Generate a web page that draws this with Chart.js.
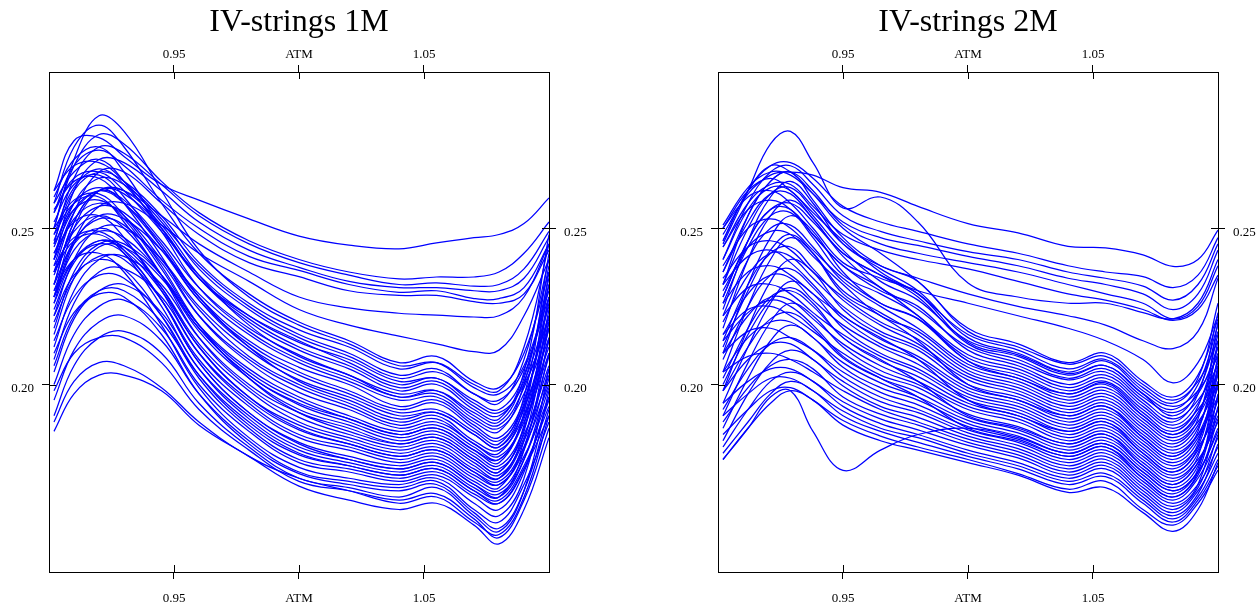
<!DOCTYPE html>
<html>
<head>
<meta charset="utf-8">
<script src="https://cdn.jsdelivr.net/npm/chart.js@4.4.1/dist/chart.umd.min.js"></script>
<style>
html,body{margin:0;padding:0;background:#fff;}
#wrap{position:relative;width:1259px;height:608px;overflow:hidden;}
canvas{position:absolute;top:0;}
</style>
</head>
<body>
<div id="wrap">
<canvas id="c1" width="630" height="608" style="left:0px"></canvas>
<canvas id="c2" width="629" height="608" style="left:630px"></canvas>
</div>
<script>
// ---------- axes ----------
const xRange = [0.9, 1.1];
const yRange = [0.14, 0.30];
const xTickValues = [0.95, 1.0, 1.05];
const xTickLabels = ['0.95', 'ATM', '1.05'];
const yTickValues = [0.20, 0.25];
const yTickLabels = ['0.20', '0.25'];
const titles = ['IV-strings 1M', 'IV-strings 2M'];

// ---------- moneyness grids ----------
const moneyness1M = [0.902, 0.91, 0.92, 0.93, 0.945, 0.96, 0.98, 1.0, 1.02, 1.04, 1.055, 1.07, 1.08, 1.09, 1.1];
const moneyness2M = [0.902, 0.912, 0.921, 0.929, 0.938, 0.95, 0.965, 0.98, 1.0, 1.02, 1.04, 1.055, 1.07, 1.082, 1.092, 1.1];

// ---------- 1M implied-vol strings ----------
const iv1M_upper = [
  [0.262, 0.278, 0.279, 0.273, 0.264, 0.259, 0.253, 0.2475, 0.2446, 0.2434, 0.2453, 0.247, 0.248, 0.2515, 0.2597],
  [0.250, 0.270, 0.280, 0.277, 0.265, 0.255, 0.246, 0.240, 0.236, 0.2338, 0.2344, 0.2344, 0.236, 0.242, 0.252],
  [0.245, 0.266, 0.276, 0.274, 0.264, 0.254, 0.245, 0.239, 0.235, 0.232, 0.2325, 0.2315, 0.232, 0.237, 0.249],
  [0.240, 0.262, 0.272, 0.271, 0.262, 0.252, 0.243, 0.2375, 0.233, 0.231, 0.231, 0.230, 0.230, 0.234, 0.247],
  [0.255, 0.270, 0.275, 0.270, 0.259, 0.250, 0.241, 0.2365, 0.232, 0.2295, 0.230, 0.2275, 0.2275, 0.231, 0.245],
  [0.236, 0.255, 0.268, 0.268, 0.258, 0.248, 0.239, 0.2345, 0.230, 0.2285, 0.2285, 0.2265, 0.226, 0.229, 0.243],
  [0.232, 0.252, 0.262, 0.262, 0.254, 0.245, 0.236, 0.228, 0.2245, 0.2228, 0.2222, 0.2216, 0.222, 0.228, 0.245],
  [0.228, 0.246, 0.257, 0.258, 0.251, 0.242, 0.233, 0.224, 0.219, 0.2155, 0.213, 0.2105, 0.211, 0.222, 0.240]
];
const iv1M_bandHigh = [
  [0.258, 0.276, 0.283, 0.276, 0.258, 0.242, 0.229, 0.220, 0.214, 0.207, 0.209, 0.201, 0.199, 0.210, 0.236],
  [0.250, 0.272, 0.286, 0.281, 0.262, 0.243, 0.228, 0.219, 0.213, 0.206, 0.207, 0.199, 0.197, 0.206, 0.230],
  [0.246, 0.262, 0.268, 0.265, 0.254, 0.239, 0.226, 0.2175, 0.212, 0.205, 0.207, 0.200, 0.198, 0.212, 0.245],
  [0.262, 0.270, 0.271, 0.265, 0.252, 0.238, 0.225, 0.216, 0.210, 0.203, 0.205, 0.197, 0.195, 0.205, 0.228],
  [0.240, 0.258, 0.266, 0.264, 0.253, 0.237, 0.224, 0.215, 0.209, 0.202, 0.204, 0.197, 0.194, 0.208, 0.240],
  [0.255, 0.266, 0.268, 0.262, 0.249, 0.235, 0.222, 0.2135, 0.208, 0.201, 0.202, 0.195, 0.192, 0.203, 0.232],
  [0.232, 0.252, 0.262, 0.261, 0.250, 0.234, 0.221, 0.212, 0.206, 0.199, 0.201, 0.193, 0.190, 0.201, 0.225],
  [0.248, 0.263, 0.269, 0.264, 0.250, 0.234, 0.220, 0.211, 0.205, 0.198, 0.200, 0.192, 0.189, 0.204, 0.248],
  [0.238, 0.255, 0.262, 0.259, 0.246, 0.231, 0.218, 0.2095, 0.203, 0.197, 0.198, 0.190, 0.187, 0.199, 0.222],
  [0.258, 0.268, 0.272, 0.265, 0.249, 0.231, 0.217, 0.208, 0.202, 0.196, 0.197, 0.189, 0.186, 0.197, 0.218],
  [0.226, 0.245, 0.254, 0.253, 0.243, 0.229, 0.216, 0.207, 0.201, 0.195, 0.196, 0.188, 0.185, 0.200, 0.238],
  [0.244, 0.258, 0.263, 0.258, 0.244, 0.228, 0.214, 0.2055, 0.200, 0.193, 0.195, 0.187, 0.183, 0.195, 0.226],
  [0.235, 0.250, 0.257, 0.255, 0.243, 0.227, 0.213, 0.204, 0.198, 0.192, 0.194, 0.186, 0.182, 0.193, 0.215],
  [0.252, 0.264, 0.267, 0.260, 0.244, 0.227, 0.212, 0.203, 0.197, 0.191, 0.192, 0.185, 0.181, 0.196, 0.242],
  [0.222, 0.240, 0.250, 0.250, 0.240, 0.225, 0.211, 0.2015, 0.196, 0.190, 0.191, 0.184, 0.180, 0.192, 0.220],
  [0.240, 0.253, 0.258, 0.254, 0.240, 0.224, 0.209, 0.200, 0.194, 0.188, 0.190, 0.182, 0.179, 0.190, 0.212],
  [0.230, 0.246, 0.253, 0.251, 0.239, 0.222, 0.208, 0.199, 0.193, 0.187, 0.189, 0.181, 0.178, 0.193, 0.232],
  [0.256, 0.265, 0.266, 0.258, 0.241, 0.222, 0.207, 0.1975, 0.192, 0.186, 0.188, 0.181, 0.177, 0.189, 0.218],
  [0.218, 0.236, 0.245, 0.245, 0.235, 0.219, 0.205, 0.196, 0.190, 0.185, 0.187, 0.180, 0.176, 0.188, 0.210],
  [0.245, 0.256, 0.259, 0.253, 0.237, 0.219, 0.204, 0.195, 0.189, 0.184, 0.186, 0.179, 0.175, 0.191, 0.236],
  [0.228, 0.243, 0.249, 0.247, 0.235, 0.218, 0.203, 0.1935, 0.188, 0.183, 0.185, 0.178, 0.174, 0.186, 0.214]
];
const iv1M_bandLow = [
  [0.236, 0.249, 0.254, 0.250, 0.235, 0.217, 0.202, 0.192, 0.187, 0.182, 0.184, 0.177, 0.173, 0.184, 0.206],
  [0.212, 0.230, 0.240, 0.241, 0.232, 0.215, 0.200, 0.191, 0.186, 0.181, 0.183, 0.176, 0.172, 0.187, 0.228],
  [0.248, 0.258, 0.260, 0.252, 0.235, 0.215, 0.199, 0.1895, 0.184, 0.180, 0.182, 0.175, 0.171, 0.183, 0.209],
  [0.224, 0.239, 0.246, 0.244, 0.231, 0.213, 0.198, 0.188, 0.183, 0.179, 0.181, 0.174, 0.170, 0.182, 0.203],
  [0.232, 0.245, 0.250, 0.246, 0.231, 0.212, 0.196, 0.187, 0.182, 0.178, 0.180, 0.173, 0.170, 0.185, 0.224],
  [0.208, 0.226, 0.236, 0.237, 0.228, 0.210, 0.195, 0.1855, 0.181, 0.177, 0.179, 0.172, 0.169, 0.180, 0.200],
  [0.242, 0.252, 0.254, 0.247, 0.230, 0.210, 0.194, 0.184, 0.180, 0.176, 0.178, 0.171, 0.168, 0.179, 0.205],
  [0.220, 0.234, 0.241, 0.240, 0.227, 0.208, 0.193, 0.183, 0.179, 0.175, 0.177, 0.170, 0.167, 0.182, 0.220],
  [0.228, 0.240, 0.245, 0.242, 0.227, 0.207, 0.191, 0.1815, 0.177, 0.174, 0.176, 0.169, 0.166, 0.177, 0.196],
  [0.204, 0.221, 0.230, 0.232, 0.223, 0.205, 0.190, 0.180, 0.176, 0.173, 0.175, 0.168, 0.165, 0.176, 0.199],
  [0.236, 0.246, 0.248, 0.242, 0.225, 0.205, 0.189, 0.179, 0.175, 0.172, 0.174, 0.167, 0.164, 0.179, 0.215],
  [0.214, 0.228, 0.235, 0.234, 0.222, 0.203, 0.187, 0.1775, 0.174, 0.171, 0.173, 0.166, 0.163, 0.174, 0.193],
  [0.222, 0.235, 0.240, 0.237, 0.222, 0.202, 0.186, 0.176, 0.173, 0.170, 0.172, 0.165, 0.162, 0.173, 0.190],
  [0.200, 0.216, 0.225, 0.227, 0.218, 0.200, 0.185, 0.175, 0.172, 0.169, 0.171, 0.164, 0.160, 0.172, 0.196],
  [0.230, 0.240, 0.242, 0.236, 0.219, 0.199, 0.183, 0.1735, 0.170, 0.168, 0.170, 0.162, 0.158, 0.170, 0.205],
  [0.195, 0.211, 0.220, 0.222, 0.214, 0.197, 0.182, 0.172, 0.169, 0.167, 0.169, 0.160, 0.156, 0.168, 0.188],
  [0.210, 0.223, 0.229, 0.228, 0.216, 0.197, 0.181, 0.1715, 0.168, 0.166, 0.168, 0.159, 0.154, 0.166, 0.192],
  [0.190, 0.206, 0.215, 0.217, 0.210, 0.194, 0.180, 0.170, 0.167, 0.164, 0.167, 0.158, 0.153, 0.166, 0.198],
  [0.198, 0.210, 0.215, 0.215, 0.207, 0.192, 0.179, 0.169, 0.166, 0.163, 0.165, 0.157, 0.151, 0.163, 0.186],
  [0.185, 0.197, 0.203, 0.203, 0.198, 0.187, 0.177, 0.1675, 0.163, 0.160, 0.162, 0.155, 0.149, 0.160, 0.183],
  [0.188, 0.201, 0.207, 0.206, 0.199, 0.188, 0.177, 0.170, 0.166, 0.162, 0.164, 0.156, 0.152, 0.164, 0.190]
];
const iv1M_extra = [
  [0.260, 0.272, 0.276, 0.268, 0.250, 0.234, 0.222, 0.214, 0.207, 0.200, 0.202, 0.194, 0.191, 0.200, 0.221],
  [0.228, 0.250, 0.262, 0.262, 0.251, 0.235, 0.219, 0.209, 0.203, 0.196, 0.198, 0.191, 0.188, 0.202, 0.234],
  [0.242, 0.256, 0.262, 0.258, 0.245, 0.228, 0.212, 0.201, 0.195, 0.189, 0.191, 0.184, 0.180, 0.194, 0.228],
  [0.216, 0.234, 0.244, 0.244, 0.234, 0.218, 0.203, 0.194, 0.189, 0.184, 0.186, 0.179, 0.176, 0.190, 0.222],
  [0.250, 0.259, 0.261, 0.254, 0.238, 0.219, 0.202, 0.191, 0.185, 0.181, 0.183, 0.176, 0.172, 0.186, 0.218],
  [0.226, 0.240, 0.246, 0.243, 0.230, 0.212, 0.196, 0.186, 0.181, 0.177, 0.179, 0.172, 0.168, 0.180, 0.210],
  [0.238, 0.247, 0.249, 0.243, 0.227, 0.207, 0.191, 0.181, 0.176, 0.173, 0.175, 0.168, 0.164, 0.176, 0.202],
  [0.206, 0.222, 0.230, 0.230, 0.220, 0.203, 0.188, 0.178, 0.174, 0.171, 0.173, 0.166, 0.162, 0.173, 0.195]
];

// ---------- 2M implied-vol strings ----------
const iv2M_upper = [
  [0.248, 0.261, 0.267, 0.268, 0.267, 0.263, 0.2615, 0.257, 0.2515, 0.2485, 0.2442, 0.2437, 0.2415, 0.2378, 0.240, 0.2494],
  [0.246, 0.262, 0.270, 0.271, 0.266, 0.257, 0.252, 0.249, 0.245, 0.242, 0.238, 0.236, 0.2345, 0.231, 0.235, 0.247],
  [0.240, 0.258, 0.268, 0.270, 0.264, 0.254, 0.249, 0.246, 0.2425, 0.240, 0.236, 0.234, 0.2315, 0.227, 0.232, 0.245],
  [0.251, 0.263, 0.268, 0.267, 0.261, 0.252, 0.247, 0.2445, 0.241, 0.238, 0.234, 0.232, 0.229, 0.224, 0.229, 0.243],
  [0.236, 0.254, 0.265, 0.268, 0.262, 0.251, 0.245, 0.242, 0.239, 0.236, 0.232, 0.229, 0.226, 0.221, 0.225, 0.238],
  [0.244, 0.258, 0.264, 0.264, 0.257, 0.248, 0.243, 0.240, 0.237, 0.233, 0.229, 0.227, 0.224, 0.2205, 0.224, 0.235],
  [0.232, 0.250, 0.261, 0.263, 0.256, 0.245, 0.238, 0.234, 0.229, 0.225, 0.222, 0.219, 0.214, 0.2115, 0.217, 0.234],
  [0.228, 0.246, 0.256, 0.258, 0.252, 0.242, 0.235, 0.230, 0.226, 0.222, 0.218, 0.214, 0.208, 0.2005, 0.207, 0.222],
  [0.245, 0.262, 0.277, 0.281, 0.271, 0.2565, 0.260, 0.252, 0.2325, 0.228, 0.226, 0.226, 0.223, 0.221, 0.226, 0.240]
];
const iv2M_bandHigh = [
  [0.246, 0.262, 0.270, 0.268, 0.261, 0.250, 0.242, 0.233, 0.218, 0.213, 0.207, 0.210, 0.201, 0.196, 0.203, 0.221],
  [0.232, 0.254, 0.265, 0.268, 0.259, 0.247, 0.238, 0.233, 0.217, 0.212, 0.2065, 0.209, 0.200, 0.195, 0.201, 0.214],
  [0.250, 0.262, 0.266, 0.262, 0.255, 0.246, 0.236, 0.229, 0.216, 0.211, 0.205, 0.208, 0.199, 0.194, 0.202, 0.226],
  [0.224, 0.246, 0.260, 0.265, 0.258, 0.245, 0.237, 0.230, 0.215, 0.210, 0.204, 0.2075, 0.198, 0.193, 0.198, 0.209],
  [0.240, 0.256, 0.263, 0.262, 0.254, 0.243, 0.233, 0.227, 0.214, 0.2095, 0.2035, 0.206, 0.197, 0.192, 0.200, 0.219],
  [0.236, 0.252, 0.261, 0.261, 0.253, 0.242, 0.235, 0.228, 0.213, 0.208, 0.202, 0.205, 0.196, 0.191, 0.197, 0.212],
  [0.218, 0.240, 0.254, 0.259, 0.253, 0.241, 0.231, 0.224, 0.212, 0.207, 0.2015, 0.204, 0.195, 0.189, 0.195, 0.206],
  [0.244, 0.256, 0.259, 0.256, 0.248, 0.238, 0.230, 0.225, 0.211, 0.206, 0.200, 0.203, 0.194, 0.188, 0.197, 0.223],
  [0.228, 0.246, 0.256, 0.256, 0.248, 0.238, 0.231, 0.222, 0.2095, 0.205, 0.199, 0.202, 0.193, 0.187, 0.194, 0.210],
  [0.210, 0.232, 0.247, 0.254, 0.249, 0.236, 0.226, 0.221, 0.2085, 0.204, 0.198, 0.201, 0.192, 0.186, 0.192, 0.203],
  [0.238, 0.250, 0.253, 0.250, 0.243, 0.234, 0.226, 0.221, 0.2075, 0.203, 0.197, 0.2005, 0.191, 0.185, 0.193, 0.216],
  [0.222, 0.240, 0.250, 0.251, 0.244, 0.233, 0.225, 0.218, 0.2065, 0.202, 0.196, 0.199, 0.190, 0.184, 0.191, 0.207],
  [0.230, 0.244, 0.249, 0.248, 0.241, 0.232, 0.222, 0.217, 0.2055, 0.201, 0.195, 0.198, 0.189, 0.183, 0.190, 0.212],
  [0.204, 0.225, 0.240, 0.247, 0.242, 0.230, 0.223, 0.216, 0.2045, 0.200, 0.194, 0.197, 0.188, 0.182, 0.188, 0.200],
  [0.234, 0.244, 0.246, 0.243, 0.236, 0.228, 0.220, 0.2145, 0.2035, 0.199, 0.193, 0.196, 0.187, 0.181, 0.189, 0.220],
  [0.214, 0.232, 0.242, 0.244, 0.237, 0.227, 0.219, 0.213, 0.2025, 0.198, 0.192, 0.195, 0.186, 0.180, 0.187, 0.204],
  [0.220, 0.235, 0.242, 0.241, 0.234, 0.225, 0.217, 0.212, 0.2015, 0.197, 0.191, 0.194, 0.185, 0.179, 0.186, 0.208],
  [0.198, 0.218, 0.233, 0.240, 0.236, 0.224, 0.216, 0.211, 0.200, 0.196, 0.190, 0.193, 0.184, 0.178, 0.184, 0.196],
  [0.226, 0.236, 0.238, 0.235, 0.229, 0.222, 0.2145, 0.209, 0.199, 0.195, 0.189, 0.192, 0.183, 0.177, 0.185, 0.214],
  [0.208, 0.225, 0.235, 0.237, 0.231, 0.221, 0.213, 0.208, 0.198, 0.194, 0.188, 0.191, 0.182, 0.176, 0.183, 0.199],
  [0.216, 0.229, 0.235, 0.234, 0.227, 0.219, 0.212, 0.2065, 0.197, 0.193, 0.187, 0.190, 0.181, 0.175, 0.182, 0.203]
];
const iv2M_bandLow = [
  [0.194, 0.212, 0.226, 0.233, 0.229, 0.218, 0.210, 0.205, 0.196, 0.192, 0.186, 0.189, 0.180, 0.174, 0.180, 0.192],
  [0.222, 0.231, 0.232, 0.229, 0.223, 0.216, 0.209, 0.204, 0.195, 0.191, 0.185, 0.188, 0.179, 0.173, 0.181, 0.209],
  [0.202, 0.218, 0.228, 0.230, 0.225, 0.215, 0.2075, 0.2025, 0.194, 0.190, 0.184, 0.187, 0.178, 0.172, 0.179, 0.195],
  [0.210, 0.222, 0.228, 0.227, 0.221, 0.213, 0.206, 0.201, 0.193, 0.189, 0.183, 0.186, 0.177, 0.171, 0.178, 0.200],
  [0.190, 0.207, 0.220, 0.226, 0.222, 0.212, 0.2045, 0.200, 0.192, 0.188, 0.182, 0.185, 0.176, 0.170, 0.176, 0.188],
  [0.216, 0.224, 0.225, 0.222, 0.217, 0.210, 0.203, 0.199, 0.1905, 0.1865, 0.181, 0.184, 0.175, 0.169, 0.177, 0.205],
  [0.198, 0.212, 0.221, 0.223, 0.218, 0.2085, 0.202, 0.1975, 0.1895, 0.1855, 0.180, 0.183, 0.174, 0.168, 0.175, 0.192],
  [0.204, 0.215, 0.220, 0.220, 0.215, 0.207, 0.2005, 0.196, 0.1885, 0.1845, 0.179, 0.182, 0.173, 0.167, 0.174, 0.196],
  [0.186, 0.202, 0.214, 0.219, 0.215, 0.2055, 0.199, 0.195, 0.1875, 0.1835, 0.178, 0.181, 0.172, 0.166, 0.172, 0.185],
  [0.210, 0.217, 0.218, 0.215, 0.211, 0.204, 0.1975, 0.1935, 0.1865, 0.1825, 0.177, 0.180, 0.171, 0.165, 0.173, 0.201],
  [0.192, 0.205, 0.213, 0.215, 0.211, 0.2025, 0.196, 0.192, 0.1855, 0.1815, 0.176, 0.179, 0.170, 0.164, 0.171, 0.189],
  [0.198, 0.208, 0.213, 0.213, 0.208, 0.201, 0.1945, 0.191, 0.1845, 0.1805, 0.175, 0.178, 0.169, 0.163, 0.170, 0.183],
  [0.182, 0.197, 0.207, 0.211, 0.208, 0.1995, 0.193, 0.1895, 0.1835, 0.1795, 0.174, 0.177, 0.168, 0.162, 0.168, 0.180],
  [0.204, 0.209, 0.210, 0.208, 0.204, 0.198, 0.192, 0.188, 0.1825, 0.1785, 0.173, 0.176, 0.167, 0.161, 0.168, 0.193],
  [0.188, 0.199, 0.206, 0.208, 0.205, 0.196, 0.1905, 0.187, 0.1815, 0.1775, 0.172, 0.175, 0.166, 0.160, 0.167, 0.184],
  [0.194, 0.201, 0.205, 0.205, 0.201, 0.1945, 0.189, 0.1855, 0.1805, 0.1765, 0.171, 0.174, 0.165, 0.159, 0.166, 0.178],
  [0.180, 0.192, 0.201, 0.204, 0.201, 0.193, 0.1875, 0.184, 0.179, 0.175, 0.170, 0.173, 0.164, 0.158, 0.165, 0.181],
  [0.190, 0.197, 0.202, 0.202, 0.198, 0.1915, 0.186, 0.183, 0.178, 0.174, 0.169, 0.1715, 0.163, 0.157, 0.164, 0.176],
  [0.178, 0.188, 0.197, 0.201, 0.198, 0.190, 0.185, 0.1815, 0.177, 0.173, 0.168, 0.1705, 0.162, 0.156, 0.163, 0.174],
  [0.184, 0.192, 0.198, 0.199, 0.195, 0.1885, 0.1835, 0.180, 0.176, 0.1715, 0.1665, 0.169, 0.160, 0.155, 0.162, 0.1726],
  [0.176, 0.186, 0.194, 0.198, 0.195, 0.187, 0.182, 0.179, 0.175, 0.171, 0.1655, 0.167, 0.159, 0.153, 0.160, 0.175],
  [0.176, 0.186, 0.196, 0.198, 0.185, 0.1725, 0.179, 0.184, 0.186, 0.183, 0.178, 0.181, 0.172, 0.166, 0.172, 0.186]
];
const iv2M_extra = [
  [0.250, 0.260, 0.262, 0.258, 0.250, 0.239, 0.234, 0.229, 0.2135, 0.209, 0.203, 0.206, 0.197, 0.190, 0.198, 0.217],
  [0.226, 0.244, 0.254, 0.255, 0.247, 0.235, 0.229, 0.222, 0.2075, 0.202, 0.197, 0.200, 0.190, 0.184, 0.190, 0.204],
  [0.212, 0.230, 0.243, 0.248, 0.242, 0.229, 0.222, 0.214, 0.200, 0.195, 0.190, 0.193, 0.183, 0.177, 0.184, 0.201],
  [0.232, 0.241, 0.243, 0.239, 0.232, 0.222, 0.215, 0.208, 0.195, 0.190, 0.185, 0.188, 0.178, 0.172, 0.180, 0.206],
  [0.200, 0.216, 0.227, 0.231, 0.226, 0.215, 0.208, 0.201, 0.190, 0.186, 0.181, 0.184, 0.174, 0.168, 0.175, 0.190],
  [0.214, 0.223, 0.227, 0.225, 0.219, 0.209, 0.202, 0.196, 0.186, 0.182, 0.177, 0.180, 0.170, 0.164, 0.172, 0.197]
];

// ---------- styling ----------
const LINE_COLOR = '#0000ff';
const INK = '#000000';
const SERIF = "'Liberation Serif', 'Times New Roman', Times, serif";

const innerTicks = {
  id: 'innerTicks',
  afterDatasetsDraw(chart) {
    const {ctx, chartArea: a, scales} = chart;
    ctx.save();
    ctx.strokeStyle = INK;
    ctx.lineWidth = 1;
    ctx.beginPath();
    xTickValues.forEach(v => {
      const p = Math.round(scales.x.getPixelForValue(v)) + 0.5;
      ctx.moveTo(p, a.bottom); ctx.lineTo(p, a.bottom - 7);
      ctx.moveTo(p, a.top); ctx.lineTo(p, a.top + 7);
    });
    yTickValues.forEach(v => {
      const p = Math.round(scales.y.getPixelForValue(v)) + 0.5;
      ctx.moveTo(a.left, p); ctx.lineTo(a.left + 7, p);
      ctx.moveTo(a.right, p); ctx.lineTo(a.right - 7, p);
    });
    ctx.stroke();
    ctx.restore();
  }
};

function gridOpts() {
  return {display: true, drawOnChartArea: false, drawTicks: true, tickLength: 7, color: INK, lineWidth: 1};
}
function borderOpts() {
  return {display: true, color: INK, width: 1};
}
function xAxis(pos, pad, h) {
  return {
    type: 'linear', axis: 'x', position: pos, min: xRange[0], max: xRange[1],
    grid: gridOpts(), border: borderOpts(),
    ticks: {font: {family: SERIF, size: 13, lineHeight: 1.2}, color: INK, autoSkip: false,
            maxRotation: 0, minRotation: 0, padding: pad, callback: (v, i) => xTickLabels[i]},
    afterBuildTicks: s => { s.ticks = xTickValues.map(v => ({value: v})); },
    afterFit: s => { s.height = h; }
  };
}
function yAxis(pos, w) {
  return {
    type: 'linear', axis: 'y', position: pos, min: yRange[0], max: yRange[1],
    grid: gridOpts(), border: borderOpts(),
    ticks: {font: {family: SERIF, size: 13, lineHeight: 1.2}, color: INK, autoSkip: false,
            padding: 8, labelOffset: 4, callback: (v, i) => yTickLabels[i]},
    afterBuildTicks: s => { s.ticks = yTickValues.map(v => ({value: v})); },
    afterFit: s => { s.width = w; }
  };
}

function buildChart(id, title, xs, curves, leftW, rightW) {
  const datasets = curves.map(c => ({
    data: c.map((v, i) => ({x: xs[i], y: v})),
    borderColor: LINE_COLOR,
    borderWidth: 1.25,
    pointRadius: 0,
    pointHoverRadius: 0,
    fill: false,
    tension: 0.4,
    xAxisID: 'x',
    yAxisID: 'y'
  }));
  return new Chart(document.getElementById(id), {
    type: 'line',
    data: {datasets},
    options: {
      responsive: false,
      animation: false,
      events: [],
      layout: {padding: 0, autoPadding: false},
      scales: {
        x: xAxis('bottom', 12, 36),
        xTop: xAxis('top', 3, 33),
        y: yAxis('left', leftW),
        yRight: yAxis('right', rightW)
      },
      plugins: {
        legend: {display: false},
        tooltip: {enabled: false},
        title: {
          display: true, text: title, fullSize: false, color: INK,
          font: {family: SERIF, size: 32, weight: 'normal', lineHeight: 1},
          padding: {top: 7, bottom: 0}
        }
      }
    },
    plugins: [innerTicks]
  });
}

buildChart('c1', titles[0], moneyness1M,
  [].concat(iv1M_upper, iv1M_bandHigh, iv1M_bandLow, iv1M_extra), 49, 81);
buildChart('c2', titles[1], moneyness2M,
  [].concat(iv2M_upper, iv2M_bandHigh, iv2M_bandLow, iv2M_extra), 88, 41);
</script>
</body>
</html>
